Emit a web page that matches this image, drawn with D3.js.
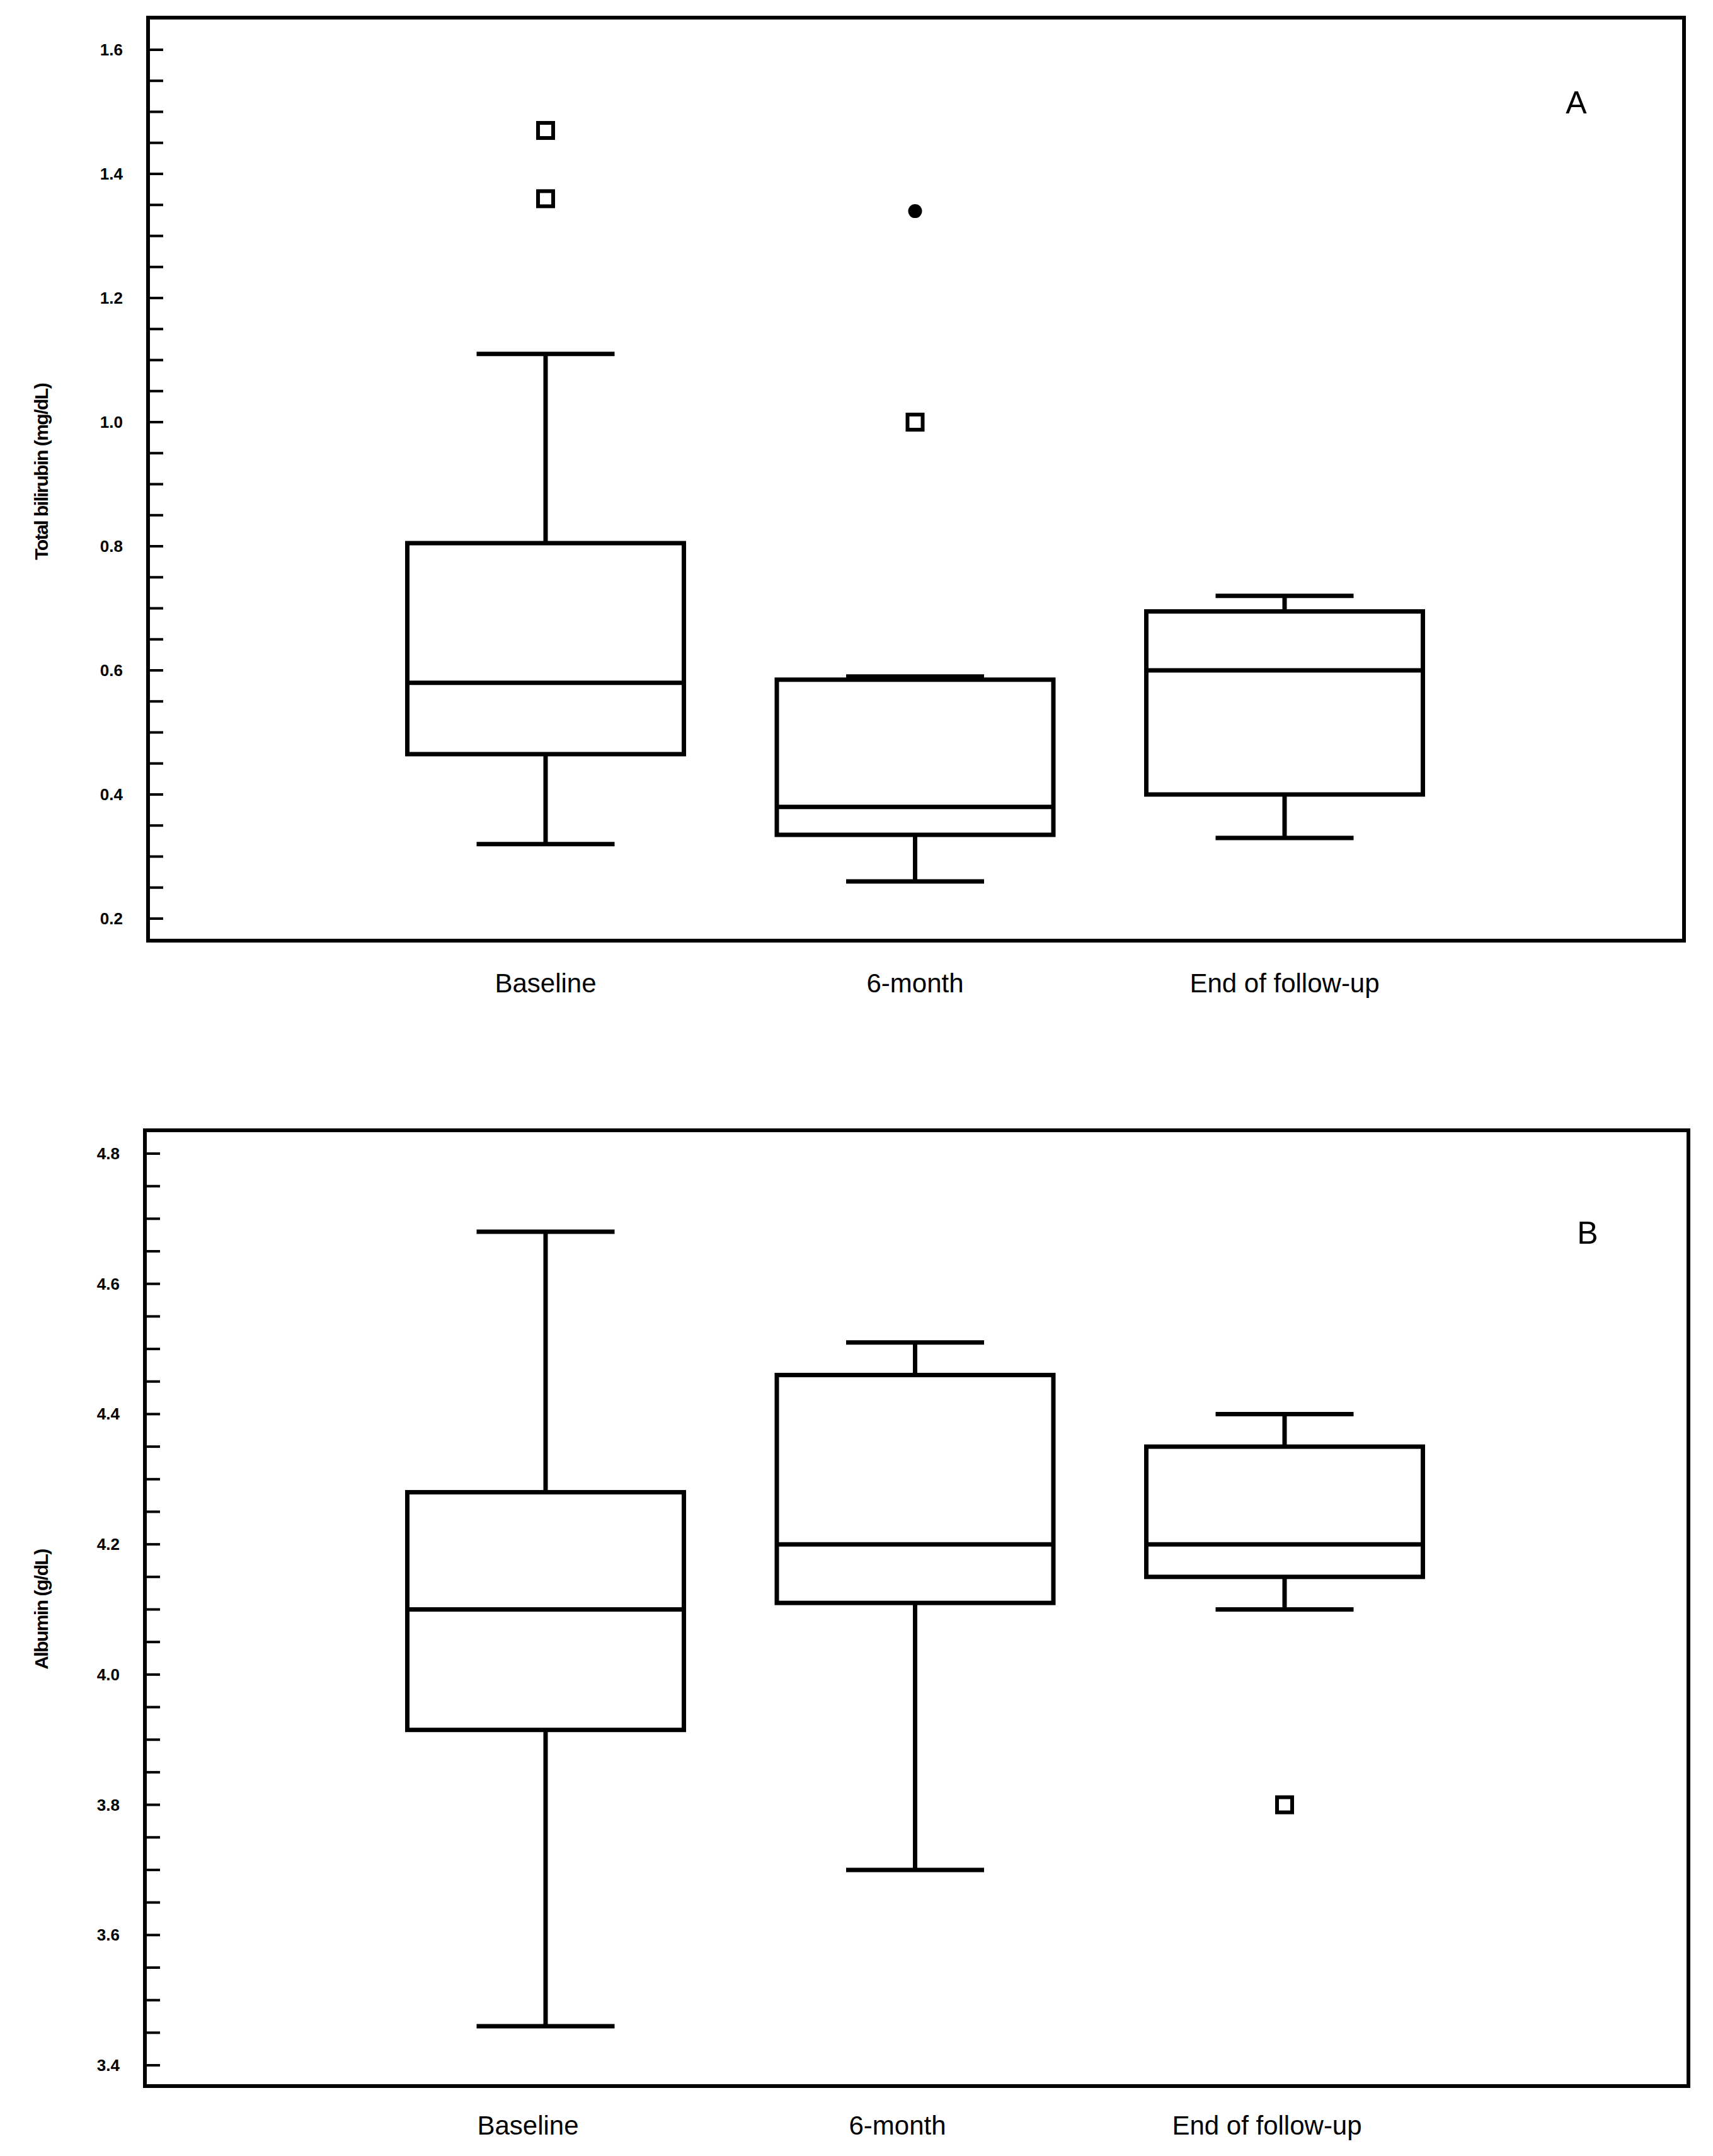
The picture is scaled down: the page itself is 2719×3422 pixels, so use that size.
<!DOCTYPE html>
<html><head><meta charset="utf-8">
<script src="https://cdn.jsdelivr.net/npm/d3@7"></script>
<style>body{margin:0;background:#fff}</style>
</head><body>
<script>
// data
var groups = ["Baseline", "6-month", "End of follow-up"];

var biliStats = [
  {min: 0.32, q1: 0.465, med: 0.58, q3: 0.805, max: 1.11},
  {min: 0.26, q1: 0.335, med: 0.38, q3: 0.585, max: 0.59},
  {min: 0.33, q1: 0.40, med: 0.60, q3: 0.695, max: 0.72}
];
var biliOutliers = [
  {g: 0, v: 1.47, type: "square"},
  {g: 0, v: 1.36, type: "square"},
  {g: 1, v: 1.34, type: "dot"},
  {g: 1, v: 1.00, type: "square"}
];
var biliTicks = [0.2, 0.4, 0.6, 0.8, 1.0, 1.2, 1.4, 1.6];

var albStats = [
  {min: 3.46, q1: 3.915, med: 4.10, q3: 4.28, max: 4.68},
  {min: 3.70, q1: 4.11, med: 4.20, q3: 4.46, max: 4.51},
  {min: 4.10, q1: 4.15, med: 4.20, q3: 4.35, max: 4.40}
];
var albOutliers = [
  {g: 2, v: 3.80, type: "square"}
];
var albTicks = [3.4, 3.6, 3.8, 4.0, 4.2, 4.4, 4.6, 4.8];

var W = 2719, H = 3422;
var svg = d3.select("body").append("svg").attr("width", W).attr("height", H);

function panel(cfg) {
  var g = svg.append("g");
  var x = d3.scalePoint().domain(groups).range([866, 2039]);
  var y = d3.scaleLinear().domain(cfg.domain).range(cfg.yRange);

  g.append("rect")
    .attr("x", cfg.frame[0]).attr("y", cfg.frame[1])
    .attr("width", cfg.frame[2] - cfg.frame[0]).attr("height", cfg.frame[3] - cfg.frame[1])
    .attr("fill", "none").attr("stroke", "#000").attr("stroke-width", 6);

  // y axis: ticks drawn inward with minor ticks every 0.05
  var minor = d3.range(cfg.domain[0], cfg.domain[1] + 0.001, 0.05);
  g.selectAll("line.minor").data(minor).enter().append("line")
    .attr("x1", cfg.frame[0]).attr("x2", cfg.frame[0] + 24)
    .attr("y1", d => y(d)).attr("y2", d => y(d))
    .attr("stroke", "#000").attr("stroke-width", 4);
  g.selectAll("text.tick").data(cfg.ticks).enter().append("text")
    .attr("x", cfg.frame[0] - 40).attr("y", d => y(d) + 9)
    .attr("text-anchor", "end")
    .attr("font-family", "Liberation Sans Narrow, Liberation Sans, sans-serif")
    .attr("font-weight", "bold").attr("font-size", 26)
    .text(d => d.toFixed(1));

  g.append("text")
    .attr("transform", "translate(76," + y((cfg.domain[0] + cfg.domain[1]) / 2 + cfg.titleShift) + ") rotate(-90)")
    .attr("text-anchor", "middle")
    .attr("font-family", "Liberation Sans, sans-serif")
    .attr("font-weight", "bold").attr("font-size", 30).attr("letter-spacing", -1.5)
    .text(cfg.title);

  var bw = 439, cw = 219;
  var boxes = g.selectAll("g.box").data(cfg.stats).enter().append("g")
    .attr("transform", (d, i) => "translate(" + x(groups[i]) + ",0)");
  boxes.append("line").attr("x1", 0).attr("x2", 0)
    .attr("y1", d => y(d.min)).attr("y2", d => y(d.max))
    .attr("stroke", "#000").attr("stroke-width", 7);
  boxes.append("rect")
    .attr("x", -bw / 2).attr("width", bw)
    .attr("y", d => y(d.q3)).attr("height", d => y(d.q1) - y(d.q3))
    .attr("fill", "#fff").attr("stroke", "#000").attr("stroke-width", 7);
  ["min", "max"].forEach(function(k) {
    boxes.append("line").attr("x1", -cw / 2).attr("x2", cw / 2)
      .attr("y1", d => y(d[k])).attr("y2", d => y(d[k]))
      .attr("stroke", "#000").attr("stroke-width", 7);
  });
  boxes.append("line").attr("x1", -bw / 2).attr("x2", bw / 2)
    .attr("y1", d => y(d.med)).attr("y2", d => y(d.med))
    .attr("stroke", "#000").attr("stroke-width", 7);

  g.selectAll("rect.out").data(cfg.outliers.filter(d => d.type === "square")).enter().append("rect")
    .attr("x", d => x(groups[d.g]) - 12).attr("y", d => y(d.v) - 12)
    .attr("width", 24).attr("height", 24)
    .attr("fill", "#fff").attr("stroke", "#000").attr("stroke-width", 6);
  g.selectAll("circle.out").data(cfg.outliers.filter(d => d.type === "dot")).enter().append("circle")
    .attr("cx", d => x(groups[d.g])).attr("cy", d => y(d.v)).attr("r", 11).attr("fill", "#000");

  g.selectAll("text.cat").data(groups).enter().append("text")
    .attr("x", d => x(d) + cfg.labelDx).attr("y", cfg.labelY)
    .attr("text-anchor", "middle")
    .attr("font-family", "Liberation Sans Narrow, Liberation Sans, sans-serif")
    .attr("font-size", 42)
    .text(d => d);

  g.append("text").attr("x", cfg.letter[0]).attr("y", cfg.letter[1])
    .attr("text-anchor", "middle")
    .attr("font-family", "Liberation Sans Narrow, Liberation Sans, sans-serif")
    .attr("font-size", 50).text(cfg.letterText);
}

panel({
  domain: [0.2, 1.6], yRange: [1458, 79], frame: [235, 28, 2673, 1493],
  ticks: biliTicks, stats: biliStats, outliers: biliOutliers,
  title: "Total bilirubin (mg/dL)", titleShift: 0.02,
  labelY: 1575, labelDx: 0, letter: [2502, 180], letterText: "A"
});
panel({
  domain: [3.4, 4.8], yRange: [3278, 1831], frame: [230, 1794, 2680, 3311],
  ticks: albTicks, stats: albStats, outliers: albOutliers,
  title: "Albumin (g/dL)", titleShift: 0,
  labelY: 3388, labelDx: -28, letter: [2520, 1974], letterText: "B"
});
</script>
</body></html>
